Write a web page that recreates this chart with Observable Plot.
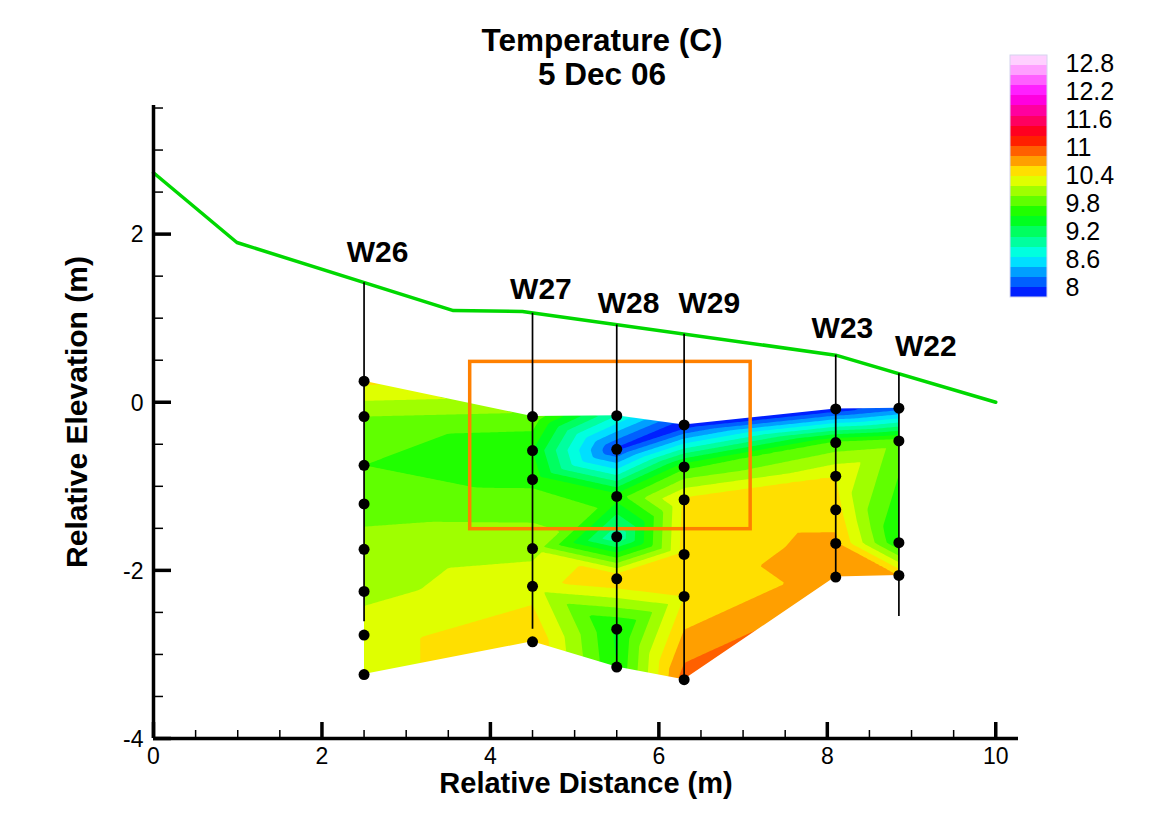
<!DOCTYPE html>
<html>
<head>
<meta charset="utf-8">
<script src="https://cdn.jsdelivr.net/npm/d3@7"></script>
<script src="https://cdn.jsdelivr.net/npm/@observablehq/plot@0.6"></script>
<style>
html, body { margin: 0; padding: 0; background: #fff; }
#wrap { position: relative; width: 1151px; height: 824px; overflow: hidden; font-family: "Liberation Sans", Arial, Helvetica, sans-serif; }
</style>
</head>
<body>
<div id="wrap"></div>
<script>
// ---------------- data ----------------
const wellNames = ["W26", "W27", "W28", "W29", "W23", "W22"];
const wellX = [2.5, 4.5, 5.5, 6.3, 8.1, 8.85];
const wellTop = [1.42, 1.06, 0.92, 0.81, 0.56, 0.34];
const wellBottom = [-2.61, -2.70, -3.15, -3.25, -2.08, -2.55];
const labelX = [2.66, 4.60, 5.64, 6.60, 8.18, 9.17];
const labelY = [1.80, 1.36, 1.19, 1.19, 0.89, 0.68];

// sensor elevations (m) and temperatures (C), per well
const sensorDepths = [
  [0.25, -0.17, -0.75, -1.21, -1.75, -2.25, -2.77, -3.24],
  [-0.17, -0.575, -0.92, -1.74, -2.19, -2.85],
  [-0.16, -0.56, -1.12, -1.60, -2.10, -2.70, -3.15],
  [-0.27, -0.77, -1.16, -1.81, -2.31, -3.30],
  [-0.08, -0.48, -0.88, -1.28, -1.68, -2.08],
  [-0.07, -0.46, -1.67, -2.06]
];
const sensorTemps = [
  [10.45, 10.0, 9.8, 9.9, 10.1, 10.15, 10.3, 10.3],
  [9.95, 9.6, 9.75, 10.15, 10.3, 10.6],
  [9.0, 8.15, 9.7, 9.0, 10.6, 9.55, 9.6],
  [8.05, 9.75, 10.45, 10.5, 10.4, 10.9],
  [8.05, 9.85, 10.4, 10.5, 10.65, 10.7],
  [8.3, 9.9, 9.6, 10.6]
];

// ground surface
const groundX = [0, 0.99, 3.56, 4.38, 8.1, 10];
const groundY = [2.73, 1.90, 1.09, 1.08, 0.56, 0];

// highlighted box
const boxX = [3.76, 7.09];
const boxY = [-1.51, 0.48];

// contour levels and colours
const levels = [8, 8.2, 8.4, 8.6, 8.8, 9, 9.2, 9.4, 9.6, 9.8, 10, 10.2, 10.4, 10.6, 10.8, 11, 11.2, 11.4, 11.6, 11.8, 12, 12.2, 12.4, 12.6, 12.8];
const bandColors = [
  "#0020ff", "#0060ff", "#009fff", "#00dfff",
  "#00ffdf", "#00ff9f", "#00ff60", "#00ff20",
  "#20ff00", "#60ff00", "#9fff00", "#dfff00",
  "#ffdf00", "#ff9f00", "#ff6000", "#ff2000",
  "#ff0020", "#ff0060", "#ff009f", "#ff00df",
  "#ff20ff", "#ff60ff", "#ff9fff", "#ffd0ff"
];
const legendTicks = [8, 8.6, 9.2, 9.8, 10.4, 11, 11.6, 12.2, 12.8];

const xMajor = [0, 2, 4, 6, 8, 10];
const xMinor = [0.5, 1, 1.5, 2.5, 3, 3.5, 4.5, 5, 5.5, 6.5, 7, 7.5, 8.5, 9, 9.5];
const yMajor = [-4, -2, 0, 2];
const yMinor = [-3.5, -3, -2.5, -1.5, -1, -0.5, 0.5, 1, 1.5, 2.5, 3, 3.5];

// ---------------- derived tables ----------------
const sensors = wellX.flatMap((x, i) => sensorDepths[i].map((y, j) => ({x, y, t: sensorTemps[i][j]})));
const wells = wellNames.map((name, i) => ({name, x: wellX[i], top: wellTop[i], bottom: wellBottom[i], lx: labelX[i], ly: labelY[i]}));
const xLo = d3.min(wellX), xHi = d3.max(wellX);
const yMin = d3.min(sensors, d => d.y), yMax = d3.max(sensors, d => d.y);
const pad = 0.08;
// mask outlines: the section edges, extended a little sideways to hide edge slivers
const topEdge = wellX.map((x, i) => ({x, y: sensorDepths[i][0]}));
const bottomEdge = wellX.map((x, i) => ({x, y: sensorDepths[i][sensorDepths[i].length - 1]}));
const topMask = [{x: xLo - pad, y: yMax + pad}, ...topEdge, {x: xHi + pad, y: topEdge[topEdge.length - 1].y}];
const bottomMask = [{x: xLo - pad, y: yMin - pad}, ...bottomEdge, {x: xHi + pad, y: bottomEdge[bottomEdge.length - 1].y}];
const sideMask = [{x: xLo - pad, y1: yMin - pad, y2: yMax + pad}, {x: xLo, y1: yMin - pad, y2: yMax + pad}];
const ground = groundX.map((x, i) => ({x, y: groundY[i]}));
const thresholds = levels.slice(0, -1);
const colorDomain = levels.slice(1, -1).map(v => v - 0.1);
const colorScale = {type: "threshold", domain: colorDomain, range: bandColors};

const font = '"Liberation Sans", Arial, Helvetica, sans-serif';

const chart = Plot.plot({
  width: 1151,
  height: 824,
  marginLeft: 153,
  marginRight: 133,
  marginTop: 105,
  marginBottom: 86,
  style: {fontFamily: font, background: "white", color: "black", overflow: "visible"},
  x: {domain: [0, 10.27], axis: null},
  y: {domain: [-4, 3.53], axis: null},
  color: colorScale,
  marks: [
    Plot.contour(sensors, {
      x: "x", y: "y", fill: "t",
      interpolate: "barycentric",
      thresholds,
      x1: xLo, x2: xHi, y1: yMin, y2: yMax,
      stroke: "none"
    }),
    // blank out everything outside the instrumented section
    Plot.areaY(topMask, {x: "x", y1: "y", y2: yMax + pad, fill: "white"}),
    Plot.areaY(bottomMask, {x: "x", y1: "y", y2: yMin - pad, fill: "white"}),
    Plot.areaY(sideMask, {x: "x", y1: "y1", y2: "y2", fill: "white"}),
    // highlight box
    Plot.rect([0], {x1: boxX[0], x2: boxX[1], y1: boxY[0], y2: boxY[1], fill: "none", stroke: "#ff8000", strokeWidth: 3.5}),
    // ground surface
    Plot.line(ground, {x: "x", y: "y", stroke: "#00d800", strokeWidth: 3.5}),
    // wells
    Plot.ruleX(wells, {x: "x", y1: "top", y2: "bottom", stroke: "black", strokeWidth: 1.7}),
    Plot.dot(sensors, {x: "x", y: "y", r: 5.5, fill: "black", stroke: "none"}),
    Plot.text(wells, {x: "lx", y: "ly", text: "name", fontSize: 30, fontWeight: "bold", fill: "black", dy: 1}),
    // axes
    Plot.ruleY([-4], {x1: 0, x2: 10.27, stroke: "black", strokeWidth: 3.5}),
    Plot.ruleX([0], {y1: -4, y2: 3.53, stroke: "black", strokeWidth: 3.5}),
    Plot.ruleX(xMajor, {x: d => d, y1: -4, y2: -4, insetTop: -16, stroke: "black", strokeWidth: 3.5}),
    Plot.ruleX(xMinor, {x: d => d, y1: -4, y2: -4, insetTop: -8, stroke: "black", strokeWidth: 1.5}),
    Plot.ruleY(yMajor, {y: d => d, x1: 0, x2: 0, insetRight: -18, stroke: "black", strokeWidth: 3.5}),
    Plot.ruleY(yMinor, {y: d => d, x1: 0, x2: 0, insetRight: -10, stroke: "black", strokeWidth: 1.5}),
    Plot.text(xMajor, {x: d => d, y: -4, dy: 18, text: d => String(d), fontSize: 23, fill: "black"}),
    Plot.text(yMajor, {x: 0, y: d => d, dx: -10, dy: 1, textAnchor: "end", text: d => String(d), fontSize: 23, fill: "black"}),
    // axis titles
    Plot.text(["Relative Distance (m)"], {frameAnchor: "bottom", dy: 45, text: d => d, fontSize: 29, fontWeight: "bold", fill: "black", textAnchor: "middle", lineAnchor: "middle"}),
    Plot.text(["Relative Elevation (m)"], {frameAnchor: "left", dx: -76, dy: -10, rotate: -90, text: d => d, fontSize: 30, fontWeight: "bold", fill: "black", textAnchor: "middle", lineAnchor: "middle"}),
    // chart title
    Plot.text(["Temperature (C)"], {frameAnchor: "top", dx: 16, dy: -65, text: d => d, fontSize: 31.5, fontWeight: "bold", fill: "black", textAnchor: "middle", lineAnchor: "middle"}),
    Plot.text(["5 Dec 06"], {frameAnchor: "top", dx: 16, dy: -31, text: d => d, fontSize: 31.5, fontWeight: "bold", fill: "black", textAnchor: "middle", lineAnchor: "middle"})
  ]
});

// colour bar
const legendBar = Plot.plot({
  width: 60,
  height: 270,
  marginLeft: 10,
  marginRight: 13,
  marginTop: 15,
  marginBottom: 13,
  style: {background: "transparent"},
  x: {domain: [0, 1], axis: null},
  y: {domain: [levels[0], levels[levels.length - 1]], axis: null},
  color: colorScale,
  marks: [
    Plot.rect(thresholds, {x1: 0, x2: 1, y1: d => d, y2: (d, i) => levels[i + 1], fill: d => d, shapeRendering: "crispEdges"}),
    Plot.rect([0], {x1: 0, x2: 1, y1: levels[0], y2: levels[levels.length - 1], fill: "none", stroke: "#d4d4ee", strokeWidth: 1})
  ]
});

const legendLabels = Plot.plot({
  width: 80,
  height: 270,
  marginLeft: 5,
  marginRight: 5,
  marginTop: 22,
  marginBottom: 24,
  style: {background: "transparent", fontFamily: font, overflow: "visible"},
  x: {domain: [0, 1], axis: null},
  y: {domain: [legendTicks[0], legendTicks[legendTicks.length - 1]], axis: null},
  marks: [
    Plot.text(legendTicks, {y: d => d, frameAnchor: "left", textAnchor: "start", dy: 1, text: d => String(d), fontSize: 25, fill: "black"})
  ]
});

const wrap = document.getElementById("wrap");
chart.style.position = "absolute"; chart.style.left = "0px"; chart.style.top = "0px";
legendBar.style.position = "absolute"; legendBar.style.left = "1000px"; legendBar.style.top = "40px";
legendLabels.style.position = "absolute"; legendLabels.style.left = "1060px"; legendLabels.style.top = "40px";
wrap.appendChild(chart);
wrap.appendChild(legendBar);
wrap.appendChild(legendLabels);
</script>
</body>
</html>
